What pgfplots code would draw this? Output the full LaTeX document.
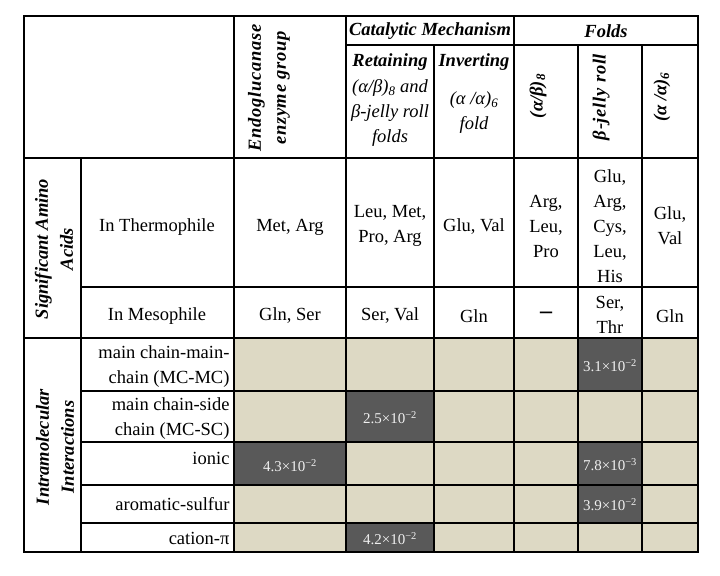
\documentclass[border=0pt]{standalone}
\usepackage{fontspec}
\setmainfont{Liberation Serif}
\usepackage{pgfplots}
\pgfplotsset{compat=1.18}
\definecolor{tan}{HTML}{DDD9C4}
\definecolor{dark}{HTML}{595959}
\definecolor{pale}{HTML}{F0F0F0}

\newcommand{\body}{\fontsize{18.5bp}{25bp}\selectfont}
\newcommand{\head}{\fontsize{18.5bp}{25bp}\selectfont\bfseries\itshape}
\newcommand{\spaced}{\addfontfeature{LetterSpace=4}}
\newcommand{\val}[2]{{\fontsize{15bp}{18bp}\selectfont #1×10\textsuperscript{−#2}}}

\begin{document}
\begin{tikzpicture}
\begin{axis}[
  x=1bp, y=1bp, y dir=reverse,
  xmin=0, xmax=720, ymin=0, ymax=576,
  hide axis, clip=false,
  unbounded coords=jump,
]
% page extent
\addplot[draw=none] coordinates {(0,0) (720,576)};

% shaded block of intramolecular interactions
\addplot[fill=tan, draw=none] coordinates {(234,338) (698,338) (698,552) (234,552)} -- cycle;
% significant cells
\addplot[fill=dark, draw=none] coordinates {(578,338) (642,338) (642,391) (578,391)} -- cycle;
\addplot[fill=dark, draw=none] coordinates {(346,391) (434,391) (434,442) (346,442)} -- cycle;
\addplot[fill=dark, draw=none] coordinates {(234,442) (346,442) (346,485) (234,485)} -- cycle;
\addplot[fill=dark, draw=none] coordinates {(578,442) (642,442) (642,485) (578,485)} -- cycle;
\addplot[fill=dark, draw=none] coordinates {(578,485) (642,485) (642,523) (578,523)} -- cycle;
\addplot[fill=dark, draw=none] coordinates {(346,523) (434,523) (434,552) (346,552)} -- cycle;

% inner rules
\addplot[black, line width=1.3bp] coordinates {
  (81,158) (81,552) (nan,nan)
  (234,16) (234,552) (nan,nan)
  (346,16) (346,552) (nan,nan)
  (434,45) (434,552) (nan,nan)
  (514,16) (514,552) (nan,nan)
  (578,45) (578,552) (nan,nan)
  (642,45) (642,552) (nan,nan)
  (346,45) (698,45) (nan,nan)
  (24,158) (698,158) (nan,nan)
  (81,287) (698,287) (nan,nan)
  (24,338) (698,338) (nan,nan)
  (81,391) (698,391) (nan,nan)
  (81,442) (698,442) (nan,nan)
  (81,485) (698,485) (nan,nan)
  (81,523) (698,523)
};
% outer border
\addplot[black, line width=1.8bp] coordinates {(24,16) (698,16) (698,552) (24,552)} -- cycle;

% header
\node[font=\head] at (axis cs:430,31) {Catalytic Mechanism};
\node[font=\head] at (axis cs:606,31) {Folds};
\node[font=\head\spaced, rotate=90, align=center] at (axis cs:269,88) {Endoglucanase\\enzyme group};
\node[font=\head] at (axis cs:390,62) {Retaining};
\node[font=\body\itshape, align=center] at (axis cs:390,113) {(α/β)\textsubscript{8} and\\β-jelly roll\\folds};
\node[font=\head] at (axis cs:474,62) {Inverting};
\node[font=\body\itshape, align=center] at (axis cs:474,113) {(α /α)\textsubscript{6}\\fold};
\node[font=\head, rotate=90] at (axis cs:538,96) {(α/β)\textsubscript{8}};
\node[font=\head\spaced, rotate=90] at (axis cs:601,97) {β-jelly roll};
\node[font=\head, rotate=90] at (axis cs:662,97) {(α /α)\textsubscript{6}};

% row groups
\node[font=\head, rotate=90, align=center] at (axis cs:54,249) {Significant Amino\\Acids};
\node[font=\head, rotate=90, align=center] at (axis cs:55,447) {Intramolecular\\Interactions};

% amino acids
\node[font=\body] at (axis cs:157,227) {In Thermophile};
\node[font=\body] at (axis cs:290,227) {Met, Arg};
\node[font=\body, align=center] at (axis cs:390,226) {Leu, Met,\\Pro, Arg};
\node[font=\body] at (axis cs:474,227) {Glu, Val};
\node[font=\body, align=center] at (axis cs:546,226) {Arg,\\Leu,\\Pro};
\node[font=\body, align=center] at (axis cs:610,226) {Glu,\\Arg,\\Cys,\\Leu,\\His};
\node[font=\body, align=center] at (axis cs:670,226) {Glu,\\Val};

\node[font=\body] at (axis cs:157,316) {In Mesophile};
\node[font=\body] at (axis cs:290,316) {Gln, Ser};
\node[font=\body] at (axis cs:390,316) {Ser, Val};
\node[font=\body] at (axis cs:474,316) {Gln};
\node[font=\fontsize{24bp}{25bp}\selectfont\bfseries] at (axis cs:546,315) {–};
\node[font=\body, align=center] at (axis cs:610,315) {Ser,\\Thr};
\node[font=\body] at (axis cs:670,316) {Gln};

% interactions
\node[font=\body, align=right, anchor=east] at (axis cs:233,367) {main chain-main-\\chain (MC-MC)};
\node[font=\body, align=right, anchor=east] at (axis cs:233,419) {main chain-side\\chain (MC-SC)};
\node[font=\body, anchor=east] at (axis cs:233,458) {ionic};
\node[font=\body, anchor=east] at (axis cs:233,504) {aromatic-sulfur};
\node[font=\body, anchor=east] at (axis cs:233,538) {cation-π};

% significance values
\node[text=pale] at (axis cs:610,366) {\val{3.1}{2}};
\node[text=pale] at (axis cs:390,418) {\val{2.5}{2}};
\node[text=pale] at (axis cs:290,466) {\val{4.3}{2}};
\node[text=pale] at (axis cs:610,465) {\val{7.8}{3}};
\node[text=pale] at (axis cs:610,505) {\val{3.9}{2}};
\node[text=pale] at (axis cs:390,539) {\val{4.2}{2}};
\end{axis}
\end{tikzpicture}
\end{document}
